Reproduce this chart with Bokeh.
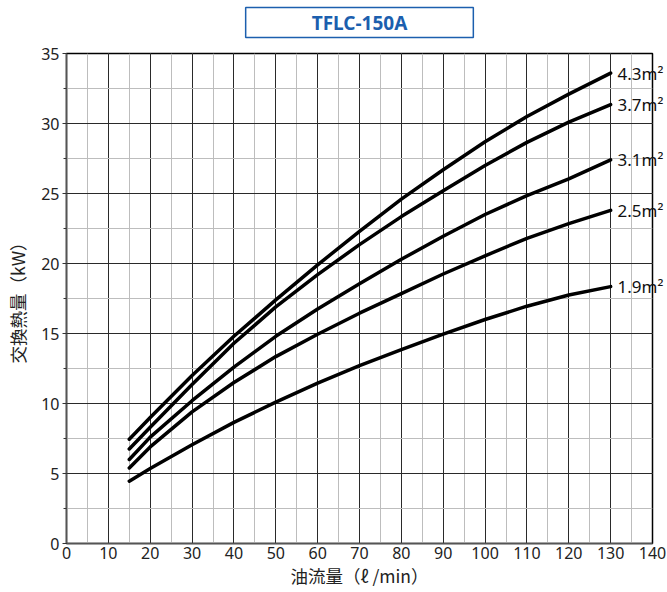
from bokeh.plotting import figure
from bokeh.models import SingleIntervalTicker, FixedTicker, Range1d, LinearAxis, Title
from bokeh.embed import file_html
from bokeh.resources import INLINE

# ---- data ----
title_text = "TFLC-150A"
x_label = "油流量（ℓ /min）"
y_label = "交換熱量（kW）"

flow = [15, 20, 30, 40, 50, 60, 70, 80, 90, 100, 110, 120, 130]
q_43 = [7.45, 9.0, 12.0, 14.8, 17.4, 19.9, 22.3, 24.6, 26.7, 28.7, 30.5, 32.1, 33.6]
q_37 = [6.75, 8.3, 11.35, 14.3, 16.9, 19.2, 21.35, 23.35, 25.2, 27.0, 28.65, 30.1, 31.35]
q_31 = [6.0, 7.6, 10.2, 12.6, 14.8, 16.75, 18.55, 20.3, 21.95, 23.5, 24.85, 26.05, 27.4]
q_25 = [5.4, 6.9, 9.4, 11.5, 13.35, 14.95, 16.45, 17.85, 19.25, 20.55, 21.8, 22.85, 23.8]
q_19 = [4.45, 5.35, 7.05, 8.65, 10.1, 11.45, 12.7, 13.85, 14.95, 16.0, 16.95, 17.75, 18.35]
area_labels = ["4.3m²", "3.7m²", "3.1m²", "2.5m²", "1.9m²"]
series = [q_43, q_37, q_31, q_25, q_19]

x_min, x_max, x_step = 0, 140, 10
y_min, y_max, y_step = 0, 35, 5

FONT = "Noto Sans"
JFONT = "Noto Sans CJK JP"
BLUE = "#1c5fae"

p = figure(
    frame_width=586, frame_height=490,
    min_border_left=66, min_border_right=14, min_border_top=53, min_border_bottom=44,
    x_range=Range1d(x_min, x_max), y_range=Range1d(y_min, y_max),
    output_backend="svg", toolbar_location=None,
    background_fill_color="white", border_fill_color="white",
    title=title_text,
)
p.outline_line_color = "black"
p.outline_line_width = 1.5

p.title.align = "center"
p.title.text_font = FONT
p.title.text_font_size = "19px"
p.title.text_font_style = "bold"
p.title.text_color = BLUE
p.title.background_fill_color = "white"
p.title.border_line_color = BLUE
p.title.border_line_width = 1.5
p.title.padding = (66, 2)

# small empty spacer between the boxed title and the plot frame
p.add_layout(Title(text=" ", text_font_size="8px", standoff=0), "above")

xt = SingleIntervalTicker(interval=x_step, num_minor_ticks=2)
yt = SingleIntervalTicker(interval=y_step, num_minor_ticks=2)
p.xaxis.ticker = xt
p.yaxis.ticker = yt
p.xgrid.ticker = xt
p.ygrid.ticker = yt
for g in (p.xgrid, p.ygrid):
    g.grid_line_color = "#2a2a2a"
    g.grid_line_width = 1
    g.minor_grid_line_color = "#bdbdbd"
    g.minor_grid_line_width = 1

for ax in (p.xaxis, p.yaxis):
    ax.axis_line_color = "#555555"
    ax.axis_line_width = 1.5
    ax.major_tick_line_color = "#333333"
    ax.minor_tick_line_color = "#333333"
    ax.major_label_text_font = FONT
    ax.major_label_text_font_size = "16px"
    ax.major_label_text_color = "#222222"
    ax.axis_label_text_font = JFONT
    ax.axis_label_text_font_size = "17.5px"
    ax.axis_label_text_font_style = "normal"
    ax.axis_label_text_color = "#222222"

p.xaxis.major_tick_out = 0
p.xaxis.major_tick_in = 0
p.xaxis.minor_tick_out = 0
p.xaxis.minor_tick_in = 0
p.xaxis.major_label_standoff = 3
p.xaxis.axis_label_standoff = 1
p.yaxis.major_tick_out = 4
p.yaxis.major_tick_in = 0
p.yaxis.minor_tick_out = 3
p.yaxis.minor_tick_in = 0
p.yaxis.major_label_standoff = 3
p.yaxis.axis_label_standoff = 8
p.xaxis.axis_label = x_label
p.yaxis.axis_label = y_label

for ys in series:
    p.line(flow, ys, line_color="black", line_width=3.5, line_join="round", line_cap="round")

# curve-end labels as a right-hand axis
ends = [s[-1] for s in series]
rax = LinearAxis(ticker=FixedTicker(ticks=ends, minor_ticks=[]),
                 major_label_overrides={e: lab for e, lab in zip(ends, area_labels)})
rax.axis_line_color = None
rax.major_tick_line_color = None
rax.minor_tick_line_color = None
rax.major_tick_out = 0
rax.major_tick_in = 0
rax.major_label_standoff = -35
rax.major_label_text_font = FONT
rax.major_label_text_font_size = "17px"
rax.major_label_text_color = "#111111"
p.add_layout(rax, "right")

open("out.html", "w").write(file_html(p, INLINE))
